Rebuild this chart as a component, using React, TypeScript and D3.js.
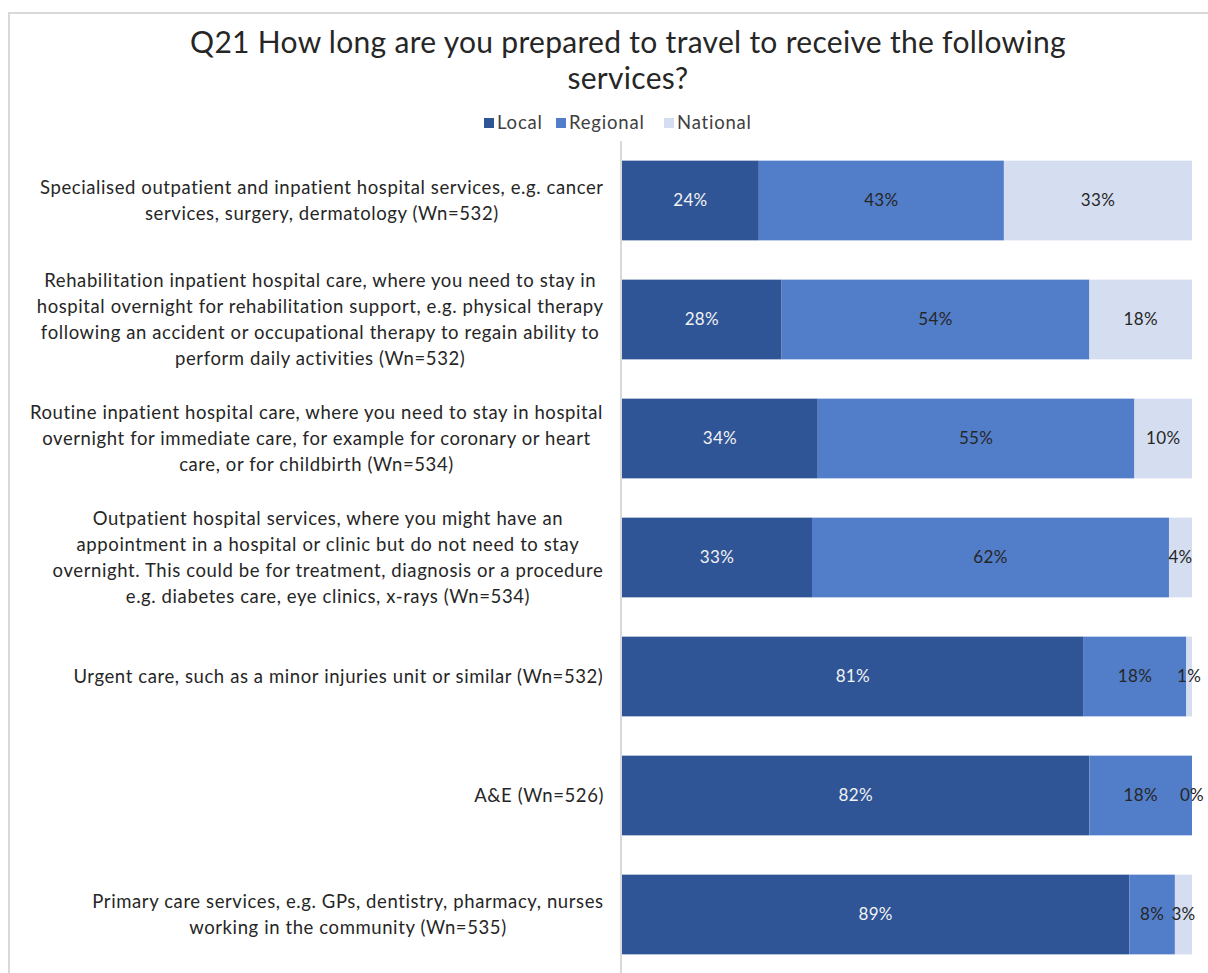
import { useMemo } from "react";
import * as d3 from "d3";

const title = [
  "Q21 How long are you prepared to travel to receive the following",
  "services?",
];

const series = ["Local", "Regional", "National"];

const categories = [
  [
    "Specialised outpatient and inpatient hospital services, e.g. cancer",
    "services, surgery, dermatology (Wn=532)",
  ],
  [
    "Rehabilitation inpatient hospital care, where you need to stay in",
    "hospital overnight for rehabilitation support, e.g. physical therapy",
    "following an accident or occupational therapy to regain ability to",
    "perform daily activities (Wn=532)",
  ],
  [
    "Routine inpatient hospital care, where you need to stay in hospital",
    "overnight for immediate care, for example for coronary or heart",
    "care, or for childbirth (Wn=534)",
  ],
  [
    "Outpatient hospital services, where you might have an",
    "appointment in a hospital or clinic but do not need to stay",
    "overnight. This could be for treatment, diagnosis or a procedure",
    "e.g. diabetes care, eye clinics, x-rays (Wn=534)",
  ],
  ["Urgent care, such as a minor injuries unit or similar (Wn=532)"],
  ["A&E (Wn=526)"],
  [
    "Primary care services, e.g. GPs, dentistry, pharmacy, nurses",
    "working in the community (Wn=535)",
  ],
];

const localValues = [24, 28, 34, 33, 81, 82, 89];
const regionalValues = [43, 54, 55, 62, 18, 18, 8];
const nationalValues = [33, 18, 10, 4, 1, 0, 3];

const colors = ["#2F5597", "#527DC8", "#D5DEF0"];
const labelColors = ["#F2F2F2", "#262626", "#262626"];

const FONT = "Lato, 'Open Sans', sans-serif";
const W = 1208;
const H = 973;
const margin = { top: 141, right: 16, bottom: -1, left: 622 };

function measure(text: string, size: number, spacing: number) {
  const c = document.createElement("canvas").getContext("2d");
  if (!c) return text.length * size * 0.5;
  c.font = `${size}px Lato`;
  return c.measureText(text).width + text.length * spacing;
}

export default function App() {
  const rows = categories.map((lines, i) => ({
    key: String(i),
    lines,
    Local: localValues[i],
    Regional: regionalValues[i],
    National: nationalValues[i],
  }));

  // 100% stacked, like Excel: each row is normalised to its own total
  const stacked = d3
    .stack<any>()
    .keys(series)
    .offset(d3.stackOffsetExpand)(rows);

  const x = d3
    .scaleLinear()
    .domain([0, 1])
    .range([margin.left, W - margin.right]);

  const y = d3
    .scaleBand()
    .domain(rows.map((r) => r.key))
    .range([margin.top, H - margin.bottom])
    .paddingInner(0.33)
    .paddingOuter(0.165);

  const labelSize = 18.5;
  const labelSpacing = 0.6;
  const lineH = 26;
  const labelRight = 604;

  const blockCenters = useMemo(
    () =>
      categories.map((lines) => {
        const maxW =
          d3.max(lines, (l) => measure(l, labelSize, labelSpacing)) || 0;
        return labelRight - maxW / 2;
      }),
    []
  );

  const legendX = [484, 556, 664];

  return (
    <div style={{ position: "absolute", left: 0, top: 0 }}>
      <svg width={W} height={H} style={{ display: "block", fontFamily: FONT }}>
        <rect width={W} height={H} fill="#fff" />
        {/* chart frame */}
        <path
          d={`M9,${H} V13 H${W}`}
          fill="none"
          stroke="#D9D9D9"
          strokeWidth={2}
        />

        {title.map((t, i) => (
          <text
            key={i}
            x={628}
            y={42 + i * 36}
            dy="0.35em"
            textAnchor="middle"
            fontSize={30}
            letterSpacing={0.3}
            fill="#262626"
          >
            {t}
          </text>
        ))}

        {series.map((s, i) => (
          <g key={s} transform={`translate(${legendX[i]},123)`}>
            <rect x={0} y={-5} width={10} height={10} fill={colors[i]} />
            <text
              x={13}
              dy="0.35em"
              fontSize={18.5}
              letterSpacing={0.8}
              fill="#404040"
            >
              {s}
            </text>
          </g>
        ))}

        {stacked.map((layer, si) => (
          <g key={layer.key}>
            {layer.map((d, i) => {
              const x0 = x(d[0]);
              const x1 = x(d[1]);
              const y0 = y(rows[i].key) || 0;
              const bh = y.bandwidth();
              return (
                <g key={i}>
                  <rect
                    x={x0}
                    y={y0}
                    width={Math.max(0, x1 - x0)}
                    height={bh}
                    fill={colors[si]}
                  />
                  <text
                    x={(x0 + x1) / 2}
                    y={y0 + bh / 2}
                    dy="0.35em"
                    textAnchor="middle"
                    fontSize={17}
                    letterSpacing={0.3}
                    fill={labelColors[si]}
                  >
                    {(d.data as any)[layer.key]}%
                  </text>
                </g>
              );
            })}
          </g>
        ))}

        {/* category axis */}
        <line
          x1={margin.left - 1}
          x2={margin.left - 1}
          y1={margin.top}
          y2={H}
          stroke="#D9D9D9"
          strokeWidth={2}
        />

        {rows.map((r, i) => {
          const cy = (y(r.key) || 0) + y.bandwidth() / 2;
          const n = r.lines.length;
          return (
            <text
              key={r.key}
              textAnchor="middle"
              fontSize={labelSize}
              letterSpacing={labelSpacing}
              fill="#262626"
            >
              {r.lines.map((l, j) => (
                <tspan
                  key={j}
                  x={blockCenters[i]}
                  y={cy + (j - (n - 1) / 2) * lineH}
                  dy="0.35em"
                >
                  {l}
                </tspan>
              ))}
            </text>
          );
        })}
      </svg>
    </div>
  );
}
